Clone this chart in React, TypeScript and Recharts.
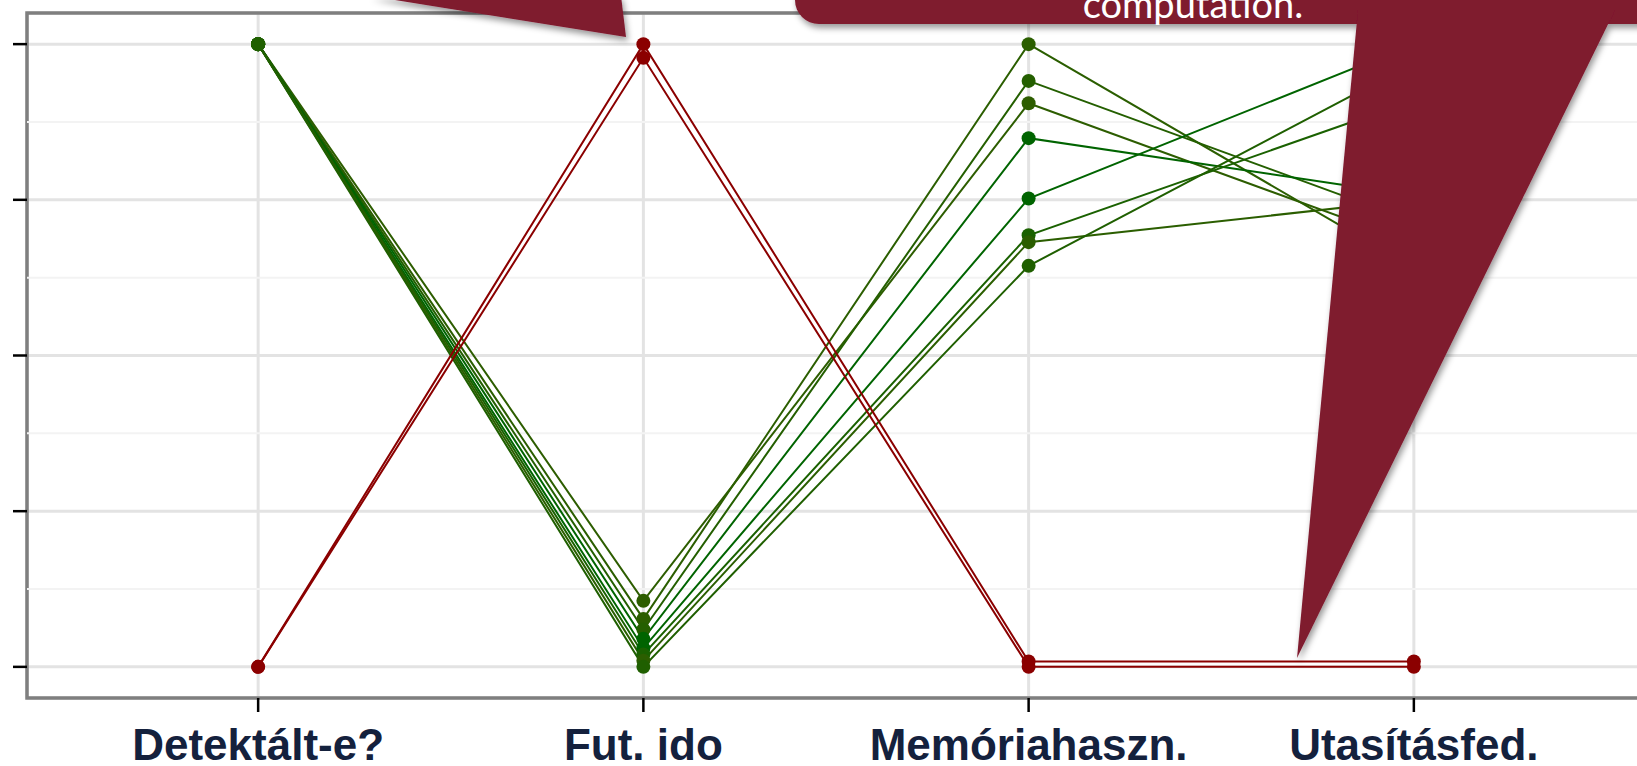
import React from "react";
import {
  LineChart,
  Line,
  XAxis,
  YAxis,
  CartesianGrid,
  ReferenceLine,
  ReferenceArea,
} from "recharts";

// parallel-coordinate axes
const AXES = ["Detektált-e?", "Fut. ido", "Memóriahaszn.", "Utasításfed."];

// scaled values (0..1) per observation, one entry per axis
const RED_1 = [0, 1.0, 0.0085, 0.0085];
const RED_2 = [0, 0.978, 0, 0];

const GREEN_1 = [1, 0.106, 0.905, 0.68];
const GREEN_2 = [1, 0.077, 1.0, 0.64];
const GREEN_3 = [1, 0.06, 0.941, 0.715];
const GREEN_4 = [1, 0.045, 0.849, 0.757];
const GREEN_5 = [1, 0.03, 0.752, 1.0];
const GREEN_6 = [1, 0.02, 0.693, 0.91];
const GREEN_7 = [1, 0.01, 0.682, 0.75];
const GREEN_8 = [1, 0.0, 0.644, 0.97];

const MAJOR_TICKS = [0, 0.25, 0.5, 0.75, 1];
const MINOR_TICKS = [0.125, 0.375, 0.625, 0.875];

const SERIES = [
  { key: "g1", values: GREEN_1, color: "#2d5d00" },
  { key: "g2", values: GREEN_2, color: "#2b5e00" },
  { key: "g3", values: GREEN_3, color: "#245f00" },
  { key: "g4", values: GREEN_4, color: "#006400" },
  { key: "g5", values: GREEN_5, color: "#006400" },
  { key: "g6", values: GREEN_6, color: "#1a6100" },
  { key: "g7", values: GREEN_7, color: "#2b5e00" },
  { key: "g8", values: GREEN_8, color: "#1f5f00" },
  { key: "r1", values: RED_1, color: "#8b0000" },
  { key: "r2", values: RED_2, color: "#8b0000" },
];

const rows = AXES.map((name, i) => {
  const row: Record<string, number | string> = { pos: i, name };
  SERIES.forEach((s) => {
    row[s.key] = s.values[i];
  });
  return row;
});

const CALLOUT = "#7f1a2f";

function AxisLabel(props: any) {
  const { x, y, payload } = props;
  return (
    <text
      x={x}
      y={y + 46}
      textAnchor="middle"
      fill="#14213d"
      fontFamily="'Liberation Sans', Arial, sans-serif"
      fontWeight="bold"
      fontSize={44}
    >
      {AXES[payload.value]}
    </text>
  );
}

function Callouts() {
  return (
    <svg
      width={1637}
      height={766}
      style={{ position: "absolute", left: 0, top: 0, pointerEvents: "none" }}
    >
      <defs>
        <filter id="bubbleShadow" x="-20%" y="-20%" width="140%" height="140%">
          <feDropShadow dx="2" dy="4" stdDeviation="3" floodColor="#000" floodOpacity="0.4" />
        </filter>
      </defs>
      <g filter="url(#bubbleShadow)">
        {/* tail of the bubble above, pointing at the slow run */}
        <polygon points="370,-4 621,-4 626,37" fill={CALLOUT} />
        {/* bubble on the right with its tail */}
        <rect x={795} y={-120} width={1000} height={144} rx={24} fill={CALLOUT} />
        <polygon points="1358,10 1615,10 1297,658" fill={CALLOUT} />
      </g>
      <text
        x={1193}
        y={18}
        textAnchor="middle"
        fill="#ffffff"
        fontFamily="Lato, 'Open Sans', sans-serif"
        fontSize={38}
      >
        computation.
      </text>
    </svg>
  );
}

export default function App() {
  return (
    <div
      style={{
        position: "absolute",
        left: 0,
        top: 0,
        width: 1637,
        height: 766,
        overflow: "hidden",
        background: "#fff",
      }}
    >
      <LineChart
        width={1650}
        height={766}
        data={rows}
        margin={{ top: 13, right: 5, bottom: 0, left: 0 }}
      >
        <CartesianGrid stroke="#e3e3e3" strokeWidth={3} />
        {MINOR_TICKS.map((t) => (
          <ReferenceLine key={t} y={t} stroke="#f3f3f3" strokeWidth={2} />
        ))}
        <XAxis
          type="number"
          dataKey="pos"
          domain={[-0.6, 3.6]}
          ticks={[0, 1, 2, 3]}
          interval={0}
          allowDataOverflow
          axisLine={false}
          tickSize={14}
          tickLine={{ stroke: "#000", strokeWidth: 2.5 }}
          tick={<AxisLabel />}
          height={68}
        />
        <YAxis
          type="number"
          domain={[-0.05, 1.05]}
          ticks={MAJOR_TICKS}
          allowDataOverflow
          axisLine={false}
          tickSize={14}
          tickLine={{ stroke: "#000", strokeWidth: 2.5 }}
          tickFormatter={() => ""}
          width={27}
        />
        {SERIES.map((s) => (
          <Line
            key={s.key}
            type="linear"
            dataKey={s.key}
            stroke={s.color}
            strokeWidth={2}
            dot={{ r: 7, fill: s.color, stroke: "none" }}
            activeDot={false}
            isAnimationActive={false}
          />
        ))}
        <ReferenceArea
          x1={-0.6}
          x2={3.6}
          y1={-0.05}
          y2={1.05}
          fill="none"
          stroke="#7f7f7f"
          strokeWidth={3.5}
          ifOverflow="visible"
        />
      </LineChart>
      <Callouts />
    </div>
  );
}
